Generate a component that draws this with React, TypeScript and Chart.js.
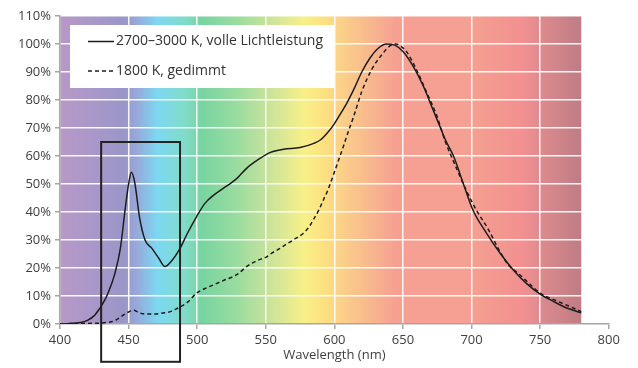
import React, { useEffect, useRef } from "react";
import { Chart, registerables } from "chart.js";

Chart.register(...registerables);

// ---- data ----
const seriesLabels = ["2700–3000 K, volle Lichtleistung", "1800 K, gedimmt"];

const wlFull = [400, 405, 410, 415, 420, 425, 429, 432, 435, 440, 444, 447.5, 450, 452, 454.5, 458, 462, 467, 472, 476.5, 481, 487.5, 493, 499.5, 505.5, 512, 519, 529, 536, 546, 553, 563, 575, 585, 590, 595, 600, 605, 609, 614, 620, 626, 632, 638, 644, 650, 657.5, 665, 672, 677, 681, 687, 694, 701, 711, 721, 730.5, 740, 750, 760, 769, 780];
const valFull = [0, 0.1, 0.3, 0.5, 1.3, 3, 5.6, 8, 11, 18, 27, 41, 50, 54.2, 50.5, 38, 30, 27, 23.5, 20.5, 22.3, 27, 32.5, 38.3, 43, 46, 48.4, 52, 55.6, 59.2, 61.2, 62.4, 63, 64.5, 65.8, 68.3, 71.5, 75.5, 78.8, 83.6, 90, 95, 98.5, 100, 99.6, 97.3, 92, 84.8, 76.4, 70.5, 65.7, 59.8, 50.2, 40.7, 32.4, 25.2, 19.3, 14.5, 10.7, 8, 5.8, 4];

const wlDim = [400, 410, 420, 428, 435, 440, 445, 450, 453.5, 457, 460, 467, 476.5, 481, 484, 488, 493.5, 499.5, 505, 512, 519, 526.5, 530, 536, 543, 550.7, 555, 560.4, 565, 570, 577.4, 582, 585, 589, 592, 595, 598, 602, 606.5, 610, 614, 620, 627, 634.5, 640.5, 645, 649, 653, 660, 667, 674.5, 681, 688, 696, 703.5, 712, 720, 727, 734, 742, 750, 760, 770.5, 780];
const valDim = [0, 0.1, 0.2, 0.3, 0.6, 1.2, 2.8, 4.3, 4.9, 4.2, 3.7, 3.6, 4, 4.5, 5.2, 6.2, 8, 11, 12.5, 14, 15.5, 17, 18, 20.5, 22.5, 24, 25.5, 27, 28.5, 30, 32.4, 35, 37.5, 41, 44.3, 47.5, 51.4, 57, 63.3, 68.5, 74, 83, 90.7, 96.1, 99.3, 100, 99, 97, 90.7, 83, 74.6, 65, 56.8, 47.9, 40.7, 34, 26.5, 21, 18.1, 14.5, 11, 8.7, 6.5, 4.4];

// highlighted region (nm and %)
const boxWavelengths = [430, 487.5];
const boxPercents = [-13.5, 65];

const xMin = 400;
const xMax = 800;
const yMin = 0;
const yMax = 110;
const spectrumRange = [400, 780];

// ---- styles ----
const FONT = '"Open Sans", "Noto Sans", sans-serif';
const TEXT = "#404040";
const AXIS = "#a6a6a6";
const LINE = "#1c1c1c";

const spectrumStops: [number, string][] = [
  [400, "#b898c8"],
  [422, "#aa98c8"],
  [447, "#9a96c8"],
  [455, "#98a6d8"],
  [471, "#7dd8f2"],
  [491, "#80dcc8"],
  [503, "#78d4a0"],
  [528, "#98dca0"],
  [554, "#cce49a"],
  [578, "#f8f088"],
  [593, "#fde080"],
  [602, "#fcd488"],
  [645, "#f5a092"],
  [699, "#f5a092"],
  [738, "#f29090"],
  [752, "#da8a8e"],
  [780, "#c07c84"],
];

const spectrumPlugin = {
  id: "spectrum",
  beforeDraw(chart: any) {
    const { ctx, chartArea, scales } = chart;
    const x0 = scales.x.getPixelForValue(spectrumRange[0]);
    const x1 = scales.x.getPixelForValue(spectrumRange[1]);
    const g = ctx.createLinearGradient(x0, 0, x1, 0);
    spectrumStops.forEach(([nm, c]) => {
      g.addColorStop((nm - spectrumRange[0]) / (spectrumRange[1] - spectrumRange[0]), c);
    });
    ctx.save();
    ctx.fillStyle = g;
    ctx.fillRect(x0, chartArea.top, x1 - x0, chartArea.bottom - chartArea.top);
    ctx.restore();
  },
};

const overlayPlugin = {
  id: "overlay",
  afterDraw(chart: any) {
    const { ctx, chartArea, scales } = chart;
    ctx.save();
    // highlight box
    const bx0 = scales.x.getPixelForValue(boxWavelengths[0]);
    const bx1 = scales.x.getPixelForValue(boxWavelengths[1]);
    const by0 = scales.y.getPixelForValue(boxPercents[1]);
    const by1 = scales.y.getPixelForValue(boxPercents[0]);
    ctx.strokeStyle = "#222";
    ctx.lineWidth = 2;
    ctx.strokeRect(bx0, by0, bx1 - bx0, by1 - by0);

    // legend
    const lx = chartArea.left + 10;
    const ly = chartArea.top + 9;
    ctx.fillStyle = "#ffffff";
    ctx.fillRect(lx, ly, 264, 63);
    const rows = [ly + 16.5, ly + 46];
    chart.data.datasets.forEach((ds: any, i: number) => {
      const y = rows[i];
      ctx.beginPath();
      ctx.setLineDash(ds.borderDash || []);
      ctx.strokeStyle = LINE;
      ctx.lineWidth = 1.5;
      ctx.moveTo(lx + 18, y);
      ctx.lineTo(lx + 44, y);
      ctx.stroke();
      ctx.setLineDash([]);
      ctx.fillStyle = "#333";
      ctx.font = `14px ${FONT}`;
      ctx.textBaseline = "middle";
      ctx.textAlign = "left";
      ctx.fillText(ds.label, lx + 46, y);
    });
    ctx.restore();
  },
};

export default function App() {
  const ref = useRef<HTMLCanvasElement | null>(null);

  useEffect(() => {
    if (!ref.current) return;
    const chart = new Chart(ref.current, {
      type: "line",
      data: {
        datasets: [
          {
            label: seriesLabels[0],
            data: wlFull.map((x, i) => ({ x, y: valFull[i] })),
            borderColor: LINE,
            borderWidth: 1.5,
            pointRadius: 0,
            cubicInterpolationMode: "monotone",
            fill: false,
          },
          {
            label: seriesLabels[1],
            data: wlDim.map((x, i) => ({ x, y: valDim[i] })),
            borderColor: LINE,
            borderWidth: 1.5,
            borderDash: [4, 3],
            pointRadius: 0,
            cubicInterpolationMode: "monotone",
            fill: false,
          },
        ],
      },
      options: {
        animation: false,
        responsive: false,
        devicePixelRatio: 1,
        layout: { padding: { top: 16, right: 29.3, left: 0, bottom: 0 } },
        plugins: {
          legend: { display: false },
          tooltip: { enabled: false },
        },
        scales: {
          x: {
            type: "linear",
            min: xMin,
            max: xMax,
            afterFit: (s: any) => {
              s.height = 44;
            },
            ticks: {
              stepSize: 50,
              color: TEXT,
              font: { family: FONT, size: 13 },
              padding: 3,
            },
            grid: {
              color: "rgba(255,255,255,0.9)",
              lineWidth: 1.5,
              tickColor: AXIS,
              tickLength: 5,
            },
            border: { color: AXIS, width: 1.5 },
            title: {
              display: true,
              text: "Wavelength (nm)",
              color: TEXT,
              font: { family: FONT, size: 13 },
              padding: { top: 0, bottom: 5 },
            },
          },
          y: {
            min: yMin,
            max: yMax,
            afterFit: (s: any) => {
              s.width = 60;
            },
            ticks: {
              stepSize: 10,
              color: TEXT,
              font: { family: FONT, size: 13 },
              padding: 4,
              callback: (v: any) => `${v}%`,
            },
            grid: {
              color: "rgba(255,255,255,0.95)",
              lineWidth: 1.5,
              tickColor: AXIS,
              tickLength: 5,
            },
            border: { color: AXIS, width: 1.5 },
          },
        },
      },
      plugins: [spectrumPlugin, overlayPlugin],
    } as any);
    return () => chart.destroy();
  }, []);

  return (
    <div style={{ position: "fixed", left: 0, top: 0, width: 638, height: 368, background: "#fff" }}>
      <canvas ref={ref} width={638} height={368} style={{ display: "block", width: 638, height: 368 }} />
    </div>
  );
}
